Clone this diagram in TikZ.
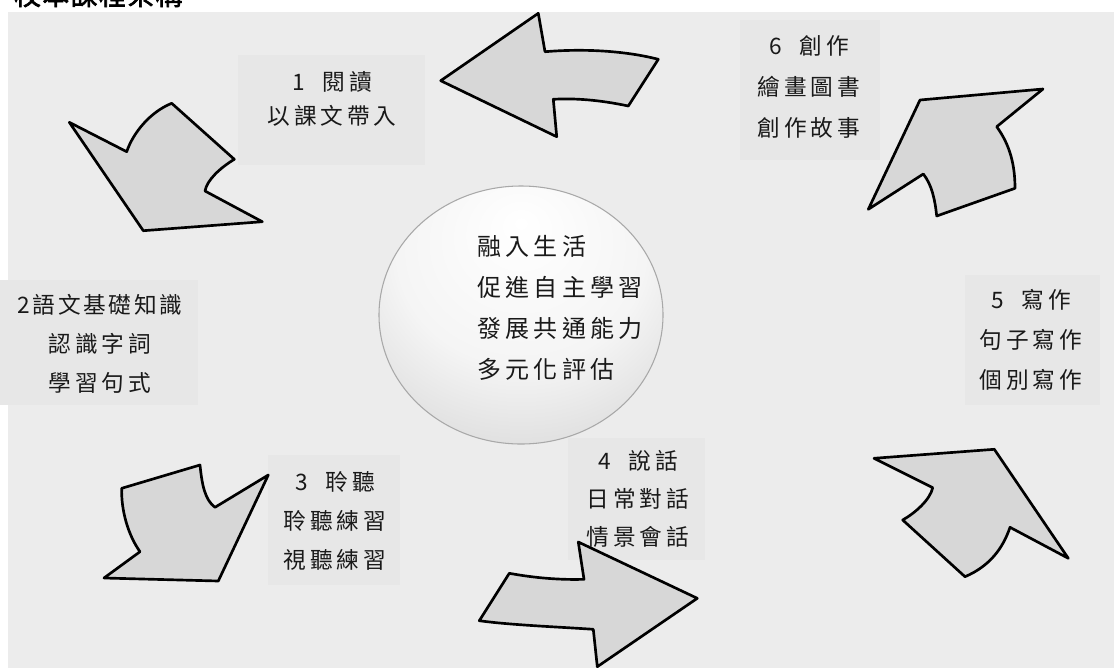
\documentclass[tikz,border=0pt]{standalone}
\usepackage{fontspec}
\newfontfamily\cjk[LetterSpace=17]{Noto Sans CJK TC}
\newfontfamily\cjkhead[FakeBold=2.5,LetterSpace=6]{Noto Sans CJK TC}
\definecolor{bggray}{HTML}{ECECEC}
\definecolor{boxgray}{HTML}{E7E7E7}
\definecolor{arrowfill}{HTML}{D7D7D7}
\definecolor{ellline}{HTML}{A8A8A8}
\pgfdeclareradialshading{ellshade}{\pgfpoint{0bp}{18bp}}{color(0bp)=(white); color(22bp)=(white!96!black); color(50bp)=(black!22); color(70bp)=(black!30)}
\tikzset{
  bigarrow/.style={draw=black, line width=2pt, fill=arrowfill, line join=round},
  lab/.style={align=center, inner sep=0pt, text=black!90},
  tbox/.style={fill=boxgray, draw=none},
}
\begin{document}
\begin{tikzpicture}[x=0.75pt, y=-0.75pt]
\useasboundingbox (0,0) rectangle (1114,668);
\fill[white] (0,0) rectangle (1114,668);
\fill[bggray] (8,12) rectangle (1114,668);
% header (cut off at top, as in the reference)
\node[anchor=base west, inner sep=0pt, font=\cjkhead\fontsize{20}{20}\selectfont] (hd) at (14,5) {校本課程架構};
% text boxes
\fill[tbox] (238,55) rectangle (425,165);
\fill[tbox] (740,20) rectangle (880,160);
\fill[tbox] (0,280) rectangle (198,405);
\fill[tbox] (965,275) rectangle (1100,405);
\fill[tbox] (268,455) rectangle (400,585);
\fill[tbox] (568,438) rectangle (705,560);
% centre ellipse
\shade[shading=ellshade] (521,315) ellipse [x radius=142, y radius=129];
\draw[ellline, line width=0.8pt] (521,315) ellipse [x radius=142, y radius=129];
\node[align=left, inner sep=0pt, text=black!90, font=\cjk\fontsize{18}{30.75}\selectfont] (ctr) at (560,308) {融入生活\\促進自主學習\\發展共通能力\\多元化評估};
% arrows
% 6 -> 1 (top, pointing left)
\draw[bigarrow] (440.7,80.7) -- (538.3,13.3) -- (545,51.7) .. controls (590,48) and (630,52) .. (658.3,59.3) -- (628.3,106) .. controls (600,100) and (575,98) .. (553.3,99.3) -- (556.7,136.7) -- cycle;
% 1 -> 2 (top left)
\draw[bigarrow] (69.3,122.3) -- (126.7,151.7) .. controls (133,133) and (150,112) .. (171.7,103.3) -- (234.3,159.3) .. controls (220,168) and (207,180) .. (205,191) -- (262.3,221.7) -- (143.3,230.7) -- cycle;
% 2 -> 3 (bottom left)
\draw[bigarrow] (121.7,488.3) -- (200,465) .. controls (202,485) and (205,500) .. (215,507.3) -- (268.3,475) -- (218.3,581) -- (104,578) -- (140,551.7) .. controls (128,535) and (121,510) .. cycle;
% 3 -> 4 (bottom, pointing right)
\draw[bigarrow] (509.3,573.3) .. controls (535,578) and (560,580) .. (584,579.3) -- (578.3,542) -- (697.3,598.3) -- (597.3,666.7) -- (593.3,629.3) .. controls (560,627) and (510,625) .. (479.3,620.7) -- cycle;
% 4 -> 5 (bottom right)
\draw[bigarrow] (874,458.3) -- (994.3,449.3) -- (1068.3,558.3) -- (1010,527.3) .. controls (1003,548) and (990,566) .. (965,576.7) -- (902.7,520) .. controls (915,513) and (930,500) .. (932.7,487.7) -- cycle;
% 5 -> 6 (top right)
\draw[bigarrow] (920,100) -- (1043,89) -- (996.7,126.7) .. controls (1010,145) and (1015,165) .. (1015,188.3) -- (936.7,216) .. controls (935,200) and (932,185) .. (923.3,174) -- (868.3,209.3) -- cycle;
% labels
\node[lab, font=\cjk\fontsize{17}{25.5}\selectfont] (t1) at (332,99) {1~~閱讀\\以課文帶入};
\node[lab, font=\cjk\fontsize{17}{30.75}\selectfont] (t6) at (809,87) {6~~創作\\繪畫圖書\\創作故事};
\node[lab, font=\cjk\fontsize{17}{29.25}\selectfont] (t2) at (100,344) {{\addfontfeature{LetterSpace=12}2語文基礎知識}\\認識字詞\\學習句式};
\node[lab, font=\cjk\fontsize{17}{30}\selectfont] (t5) at (1031,340) {5~~寫作\\句子寫作\\個別寫作};
\node[lab, font=\cjk\fontsize{17}{29.25}\selectfont] (t3) at (335,521) {3~~聆聽\\聆聽練習\\視聽練習};
\node[lab, font=\cjk\fontsize{17}{28.5}\selectfont] (t4) at (638,499) {4~~說話\\日常對話\\情景會話};
\end{tikzpicture}
\end{document}
